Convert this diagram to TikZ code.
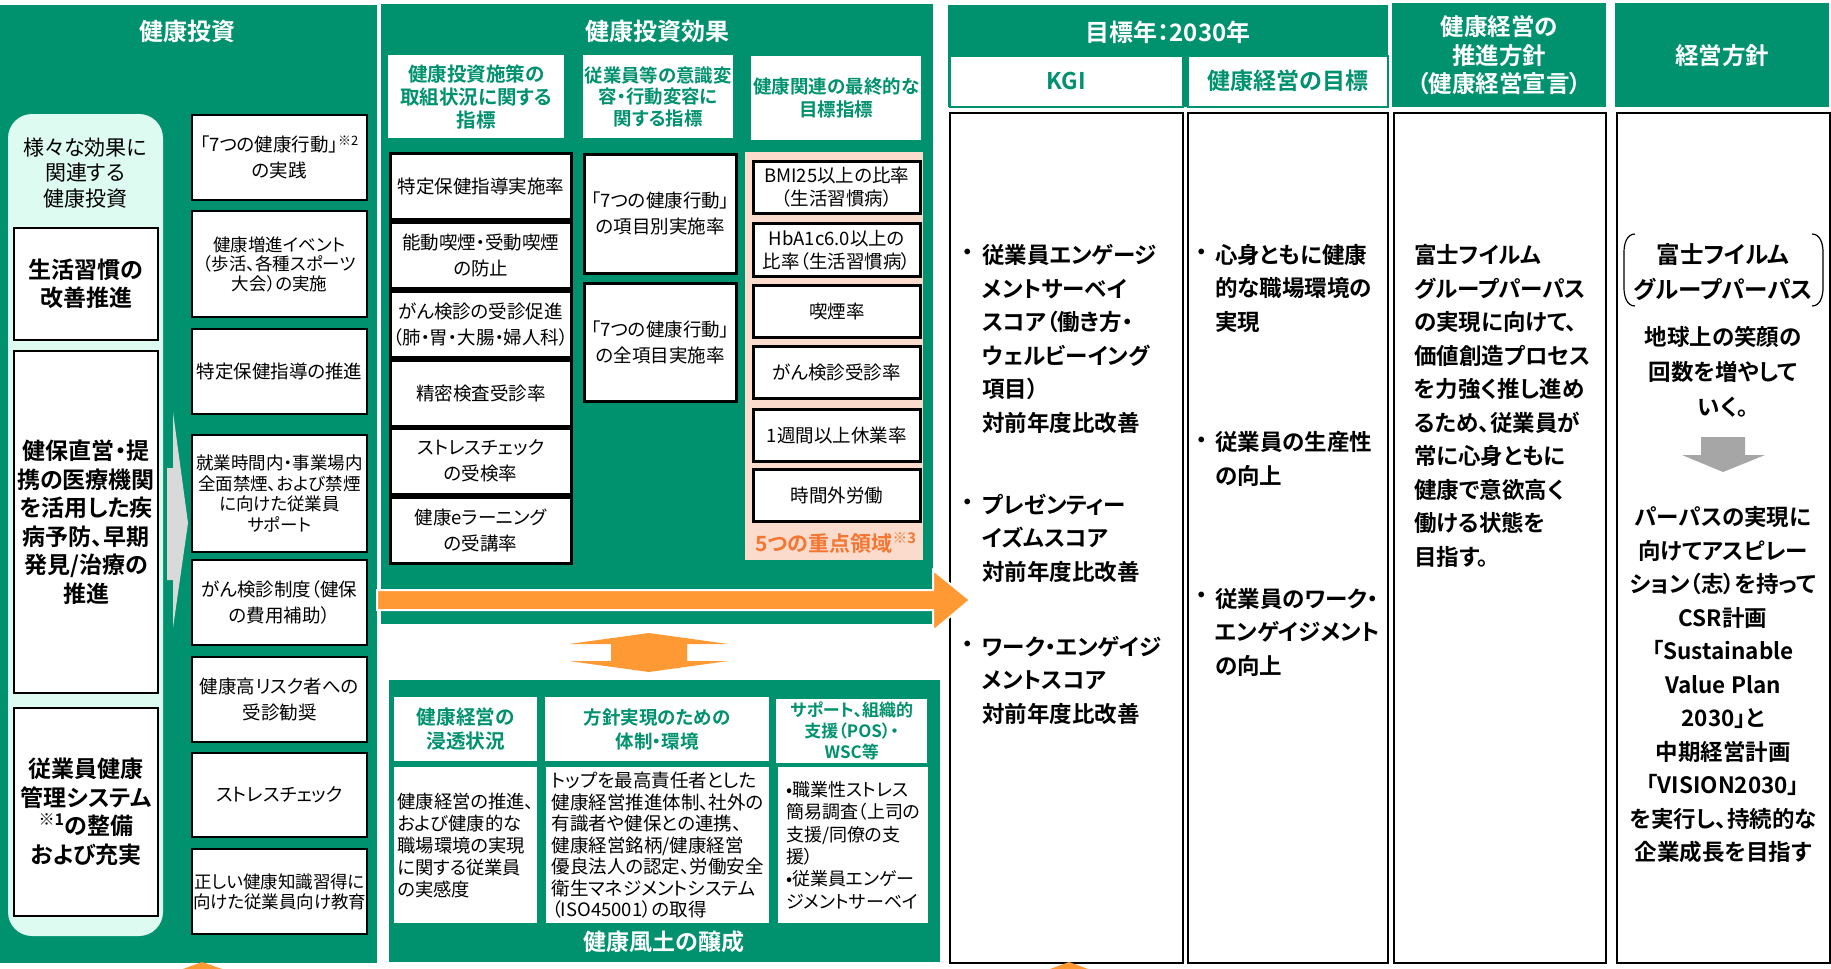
\documentclass[tikz,border=0pt]{standalone}
\usepackage{fontspec}
\setmainfont{Noto Sans CJK JP}[RawFeature=+palt, BoldFont={Noto Sans CJK JP Bold}]
\usepackage{tikz}
\usepackage{xcolor}

\definecolor{fjgreen}{RGB}{0,145,110}
\definecolor{fjmint}{RGB}{222,251,242}
\definecolor{fjorange}{RGB}{255,153,51}
\definecolor{fjpeach}{RGB}{251,220,204}
\definecolor{fjtxtorange}{RGB}{243,118,50}
\definecolor{fjgray}{RGB}{217,217,217}
\definecolor{fjdgray}{RGB}{166,166,166}
\newcommand{\fsz}[2]{\fontsize{#1}{#2}\selectfont}

\begin{document}
\begin{tikzpicture}[x=1pt, y=-1pt,
    ttl/.style={text=white, font=\bfseries\fsz{24}{28}, inner sep=0, align=center},
    lbox/.style={draw, line width=2, fill=white, anchor=north west, align=center, inner sep=1, minimum width=144, font=\bfseries\fsz{23}{28.5}},
    rbox/.style={draw, line width=2, fill=white, anchor=north west, align=center, inner sep=1, minimum width=175, font=\fsz{18.5}{26}},
    mbox/.style={draw, line width=2.6, fill=white, anchor=north west, align=center, inner sep=1, font=\fsz{18.5}{26}},
    pbox/.style={mbox, minimum width=167, minimum height=52, font=\fsz{18.5}{23}},
    ghead/.style={fill=white, text=fjgreen, anchor=north west, align=center, inner sep=1, font=\bfseries\fsz{18.5}{23}},
    tbox/.style={fill=white, anchor=north west, align=left, inner sep=2, minimum height=156, font=\fsz{18.3}{22}},
    whead/.style={fill=white, draw=fjgreen, line width=1.5, anchor=north west, text=fjgreen, inner sep=0, minimum height=51, font=\bfseries\fsz{23}{27}},
    gbox/.style={fill=fjgreen, text=white, anchor=north west, align=center, inner sep=0, minimum width=214, minimum height=104, font=\bfseries\fsz{23.5}{28.5}},
    bodybox/.style={draw, line width=2, fill=white, anchor=north west, inner sep=0, minimum height=850},
    btxt/.style={align=left, anchor=west, inner sep=0, font=\bfseries\fsz{22.5}{33.5}},
    bul/.style={inner sep=0, font=\bfseries\fsz{22.5}{33.5}},
    ctxt/.style={align=center, inner sep=0, font=\bfseries\fsz{22.5}{35}}]
    \useasboundingbox (0,0) rectangle (1831,969);
    \fill[white] (0,0) rectangle (1831,969);

    % Left panel
    \fill[fjgreen] (0,5) rectangle (377,963);
    \node[ttl] (invTitle) at (187,31) {健康投資};
    \fill[fjmint, rounded corners=24] (8,114) rectangle (163,936);
    \node[align=center, font=\fsz{21}{25.5}, inner sep=0] (invMint) at (85,173) {様々な効果に\\関連する\\健康投資};
    \node[lbox, minimum height=112] (habit) at (13,227) {生活習慣の\\改善推進};
    \node[lbox, minimum height=342] (clinic) at (13,350) {健保直営・提\\携の医療機関\\を活用した疾\\病予防、早期\\発見/治療の\\推進};
    \node[lbox, minimum height=208] (hsys) at (13,707) {従業員健康\\管理システム\\\textsuperscript{※1}の整備\\および充実};
    \fill[fjgray] (167,468) -- (173,468) -- (173,412) -- (188,523) -- (173,628) -- (173,580) -- (167,580) -- cycle;

    \node[rbox, minimum height=85] (act7) at (191,114) {「7つの健康行動」\textsuperscript{※2}\\の実践};
    \node[rbox, minimum height=106, font=\fsz{17.5}{19.5}] (event) at (191,210) {健康増進イベント\\（歩活、各種スポーツ\\大会）の実施};
    \node[rbox, minimum height=85] (guide) at (191,328) {特定保健指導の推進};
    \node[rbox, minimum height=117, font=\fsz{17.5}{20.5}] (smoke) at (191,434) {就業時間内・事業場内\\全面禁煙、および禁煙\\に向けた従業員\\サポート};
    \node[rbox, minimum height=85] (cancer) at (191,559) {がん検診制度（健保\\の費用補助）};
    \node[rbox, minimum height=85] (risk) at (191,656) {健康高リスク者への\\受診勧奨};
    \node[rbox, minimum height=84] (stress) at (191,752) {ストレスチェック};
    \node[rbox, minimum height=85, font=\fsz{17.5}{20}] (educ) at (191,848) {正しい健康知識習得に\\向けた従業員向け教育};

    % Middle panel
    \fill[fjgreen] (381,4) rectangle (933,624);
    \node[ttl] (effTitle) at (657,31) {健康投資効果};
    \node[ghead, minimum width=176, minimum height=83, font=\bfseries\fsz{19.5}{23}] (idxA) at (388,55) {健康投資施策の\\取組状況に関する\\指標};
    \node[ghead, minimum width=150, minimum height=83, font=\bfseries\fsz{18.4}{21.5}] (idxB) at (583,55) {従業員等の意識変\\容・行動変容に\\関する指標};
    \node[ghead, minimum width=170, minimum height=84] (idxC) at (751,56) {健康関連の最終的な\\目標指標};

    \node[mbox, minimum width=181, minimum height=66] (rateGuide) at (389,152) {特定保健指導実施率};
    \node[mbox, minimum width=181, minimum height=66] (rateSmoke) at (389,221) {能動喫煙・受動喫煙\\の防止};
    \node[mbox, minimum width=181, minimum height=66] (rateScreen) at (389,290) {がん検診の受診促進\\（肺・胃・大腸・婦人科）};
    \node[mbox, minimum width=181, minimum height=66] (rateDetail) at (389,359) {精密検査受診率};
    \node[mbox, minimum width=181, minimum height=66] (rateStress) at (389,427) {ストレスチェック\\の受検率};
    \node[mbox, minimum width=181, minimum height=66] (rateLearn) at (389,496) {健康eラーニング\\の受講率};

    \node[mbox, minimum width=152, minimum height=119] (rateEach) at (583,153) {「7つの健康行動」\\の項目別実施率};
    \node[mbox, minimum width=152, minimum height=118] (rateAll) at (583,282) {「7つの健康行動」\\の全項目実施率};

    \fill[fjpeach] (745,152) rectangle (923,560);
    \node[pbox] (bmi) at (752,160) {BMI25以上の比率\\（生活習慣病）};
    \node[pbox, minimum height=53] (hba) at (752,222) {HbA1c6.0以上の\\比率（生活習慣病）};
    \node[pbox] (smokeRate) at (752,284) {喫煙率};
    \node[pbox] (screenRate) at (752,345) {がん検診受診率};
    \node[pbox] (absence) at (752,408) {1週間以上休業率};
    \node[pbox] (overtime) at (752,468) {時間外労働};
    \node[text=fjtxtorange, font=\bfseries\fsz{21}{24}, inner sep=0] (focus5) at (836,543) {5つの重点領域\textsuperscript{※3}};

    % Lower middle panel
    \fill[fjgreen] (389,680) rectangle (940,962);
    \node[ghead, minimum width=143, minimum height=64, font=\bfseries\fsz{19.6}{24}] (cultA) at (394,697) {健康経営の\\浸透状況};
    \node[ghead, minimum width=224, minimum height=64, font=\bfseries\fsz{18.5}{24}] (cultB) at (545,697) {方針実現のための\\体制・環境};
    \node[ghead, minimum width=151, minimum height=64, font=\bfseries\fsz{17}{21}] (cultC) at (776,699) {サポート、組織的\\支援（POS）・\\WSC等};
    \node[tbox, minimum width=143] (bodyA) at (394,767) {健康経営の推進、\\および健康的な\\職場環境の実現\\に関する従業員\\の実感度};
    \node[tbox, minimum width=223, font=\fsz{18.5}{21.5}] (bodyB) at (546,767) {トップを最高責任者とした\\健康経営推進体制、社外の\\有識者や健保との連携、\\健康経営銘柄/健康経営\\優良法人の認定、労働安全\\衛生マネジメントシステム\\（ISO45001）の取得};
    \node[tbox, minimum width=150, font=\fsz{18}{22.4}] (bodyC) at (778,767) {•職業性ストレス\\簡易調査（上司の\\支援/同僚の支\\援）\\•従業員エンゲー\\ジメントサーベイ};
    \node[ttl, font=\bfseries\fsz{23}{26}] (cultTitle) at (664,942) {健康風土の醸成};

    % Right columns
    \fill[fjgreen] (948,5) rectangle (1388,107);
    \node[ttl] (yearTitle) at (1168,32) {目標年：2030年};
    \node[whead, minimum width=233] (kgiHead) at (949,55) {KGI};
    \node[whead, minimum width=200] (goalHead) at (1187,55) {健康経営の目標};
    \node[bodybox, minimum width=233] (kgiBody) at (949,112) {};
    \node[bodybox, minimum width=200] (goalBody) at (1187,112) {};
    \node[gbox] (declHead) at (1392,3) {健康経営の\\推進方針\\（健康経営宣言）};
    \node[gbox] (mgmtHead) at (1615,3) {経営方針};
    \node[bodybox, minimum width=212] (declBody) at (1393,112) {};
    \node[bodybox, minimum width=213] (mgmtBody) at (1616,112) {};

    \node[bul] (kgiDot1) at (968,255) {・};
    \node[btxt] (kgiTxt1) at (982,339) {従業員エンゲージ\\メントサーベイ\\スコア（働き方・\\ウェルビーイング\\項目）\\対前年度比改善};
    \node[bul] (kgiDot2) at (968,505) {・};
    \node[btxt] (kgiTxt2) at (982,538) {プレゼンティー\\イズムスコア\\対前年度比改善};
    \node[bul] (kgiDot3) at (968,647) {・};
    \node[btxt] (kgiTxt3) at (982,680) {ワーク・エンゲイジ\\メントスコア\\対前年度比改善};

    \node[bul] (goalDot1) at (1202,255) {・};
    \node[btxt] (goalTxt1) at (1215,288) {心身ともに健康\\的な職場環境の\\実現};
    \node[bul] (goalDot2) at (1202,443) {・};
    \node[btxt] (goalTxt2) at (1215,459) {従業員の生産性\\の向上};
    \node[bul] (goalDot3) at (1202,598) {・};
    \node[btxt] (goalTxt3) at (1215,632) {従業員のワーク・\\エンゲイジメント\\の向上};

    \node[btxt] (declTxt) at (1414,406) {富士フイルム\\グループパーパス\\の実現に向けて、\\価値創造プロセス\\を力強く推し進め\\るため、従業員が\\常に心身ともに\\健康で意欲高く\\働ける状態を\\目指す。};

    \node[ctxt, font=\bfseries\fsz{23.5}{35}] (purpose) at (1723,272) {富士フイルム\\グループパーパス};
    \draw[line width=1.2] (1635,234) to[out=180, in=90] (1624,252) -- (1624,288) to[out=-90, in=180] (1635,306);
    \draw[line width=1.2] (1812,234) to[out=0, in=90] (1823,252) -- (1823,288) to[out=-90, in=0] (1812,306);
    \node[ctxt] (smiles) at (1723,372) {地球上の笑顔の\\回数を増やして\\いく。};
    \fill[fjdgray] (1701,437) -- (1745,437) -- (1745,455) -- (1765,455) -- (1723,472) -- (1682,455) -- (1701,455) -- cycle;
    \node[ctxt, font=\bfseries\fsz{22.5}{33.5}] (plans) at (1723,685) {パーパスの実現に\\向けてアスピレー\\ション（志）を持って\\CSR計画\\「Sustainable\\Value Plan\\2030」と\\中期経営計画\\「VISION2030」\\を実行し、持続的な\\企業成長を目指す};

    % Orange arrows
    \draw[fill=fjorange, draw=white, line width=2] (377,590) -- (933,590) -- (933,570) -- (970,600) -- (933,631) -- (933,610) -- (377,610) -- cycle;
    \fill[fjorange] (649,633) -- (569,644) -- (611,644) -- (611,661) -- (569,661) -- (649,672) -- (728,661) -- (687,661) -- (687,644) -- (728,644) -- cycle;
    \fill[fjorange] (183,969) -- (202,962) -- (222,969) -- cycle;
    \fill[fjorange] (1050,969) -- (1069,962) -- (1088,969) -- cycle;
\end{tikzpicture}
\end{document}
